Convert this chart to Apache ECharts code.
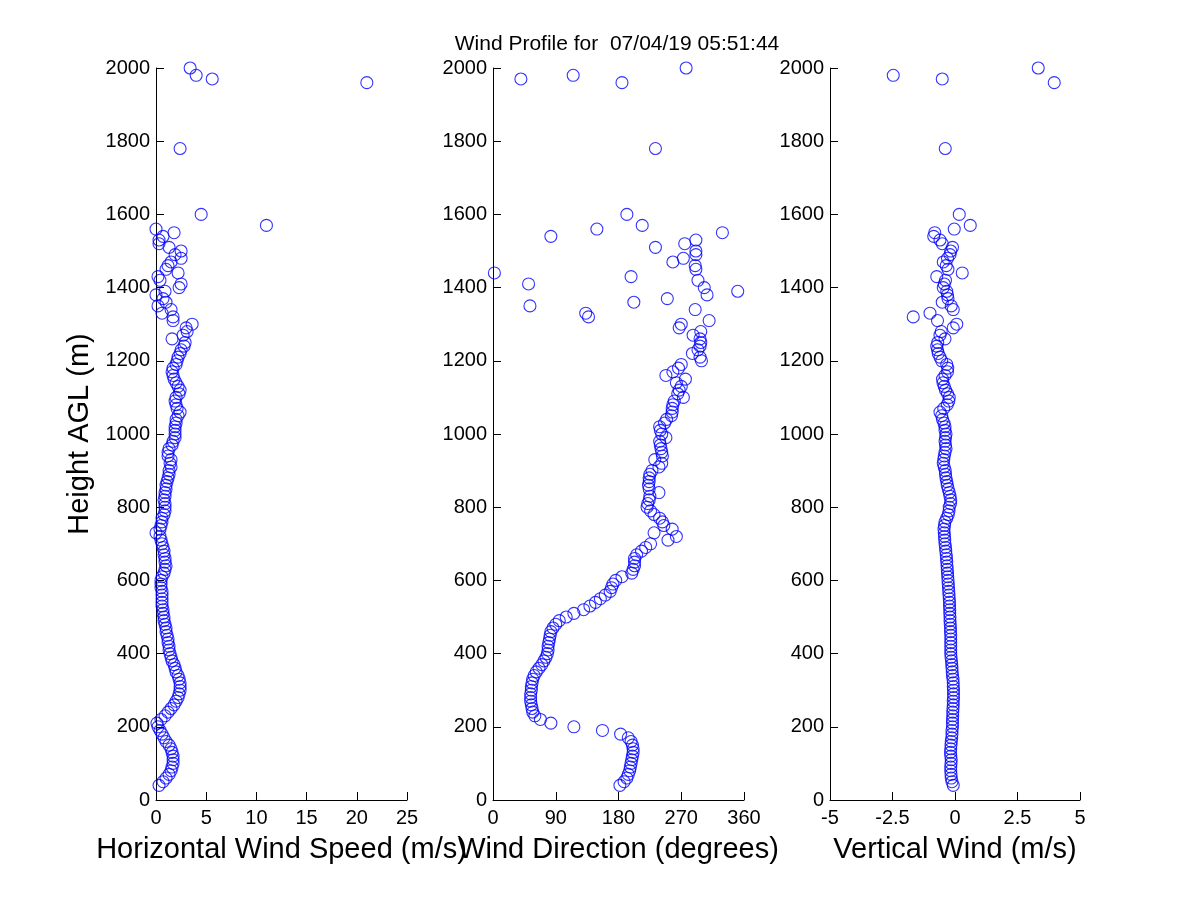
<!DOCTYPE html>
<html>
<head>
<meta charset="utf-8">
<script src="https://cdn.jsdelivr.net/npm/echarts@6/dist/echarts.min.js"></script>
<style>
html,body{margin:0;padding:0;background:#fff;}
#chart{width:1200px;height:900px;}
</style>
</head>
<body>
<div id="chart"></div>
<script>
// Heights (m AGL)
const heights = [
  40,50,60,70,80,90,100,110,120,130,
  140,150,160,170,180,190,200,210,220,230,
  240,250,260,270,280,290,300,310,320,330,
  340,350,360,370,380,390,400,410,420,430,
  440,450,460,470,480,490,500,510,520,530,
  540,550,560,570,580,590,600,610,620,630,
  640,650,660,670,680,690,700,710,720,730,
  740,750,760,770,780,790,800,810,820,830,
  840,850,860,870,880,890,900,910,920,930,
  940,950,960,970,980,990,1000,1010,1020,1030,
  1040,1050,1060,1070,1080,1090,1100,1110,1120,1130,
  1140,1150,1160,1170,1180,1190,1200,1210,1220,1230,
  1240,1250,1260,1270,1280,1290,1300,1310,1320,1330,
  1340,1350,1360,1370,1380,1390,1400,1410,1420,1430,
  1440,1450,1460,1470,1480,1490,1500,1510,1520,1530,
  1540,1550,1560,1570,
  1600,1780,1960,1970,1980,2000
];
// Horizontal wind speed (m/s)
const speed = [
  0.3,0.7,1.0,1.3,1.5,1.6,1.7,1.7,1.7,1.6,
  1.5,1.3,1.0,0.8,0.6,0.4,0.2,0.1,0.5,0.9,
  1.2,1.5,1.8,2.0,2.2,2.3,2.4,2.4,2.4,2.3,
  2.2,2.0,1.9,1.8,1.6,1.5,1.4,1.3,1.3,1.2,
  1.2,1.1,1.0,1.0,0.9,0.8,0.8,0.7,0.7,0.6,
  0.6,0.6,0.6,0.6,0.5,0.5,0.5,0.6,0.8,0.9,
  1.0,0.9,0.9,0.8,0.8,0.7,0.6,0.5,0.4,0.0,
  0.4,0.5,0.6,0.6,0.8,0.9,0.9,0.9,0.8,0.9,
  0.9,1.0,1.0,1.1,1.2,1.3,1.3,1.5,1.4,1.5,
  1.2,1.2,1.3,1.6,1.7,1.9,1.9,1.9,1.9,2.0,
  2.0,2.2,2.4,2.1,2.0,1.9,2.0,2.3,2.4,2.2,
  2.0,1.8,1.7,1.6,1.7,2.0,2.1,2.2,2.4,2.5,
  2.8,2.9,1.6,2.7,3.1,3.0,3.6,1.7,1.7,0.6,
  1.5,0.2,1.0,0.7,0.0,0.9,2.3,2.5,0.4,0.2,
  2.2,1.0,1.2,1.5,2.5,1.9,2.5,1.3,0.3,0.3,
  0.7,1.8,0.0,11.0,
  4.5,2.4,21.0,5.6,4.0,3.4
];
// Wind direction (degrees)
const direction = [
  182,188,192,194,196,197,198,199,200,201,
  201,200,198,194,183,157,116,83,68,60,
  57,56,55,54,54,54,55,55,56,57,
  59,62,66,70,73,76,78,79,79,80,
  81,82,83,86,90,95,105,116,130,139,
  147,154,161,168,170,172,176,185,199,201,
  203,203,203,206,213,219,226,251,263,231,
  257,245,243,239,231,226,221,222,224,225,
  238,224,223,224,224,225,228,238,242,232,
  243,242,241,240,239,248,242,240,239,246,
  249,256,257,257,258,260,273,265,267,270,
  263,276,248,258,266,270,299,297,286,294,
  297,298,297,287,298,267,270,310,137,133,
  290,53,202,250,307,351,303,51,294,198,
  2,291,290,258,273,291,291,233,275,291,
  83,329,149,214,
  192,233,185,40,115,277
];
// Vertical wind (m/s)
const vertical = [
  -0.07,-0.12,-0.15,-0.16,-0.17,-0.17,-0.16,-0.15,-0.17,-0.18,
  -0.17,-0.16,-0.15,-0.13,-0.12,-0.12,-0.10,-0.10,-0.10,-0.09,
  -0.09,-0.08,-0.07,-0.07,-0.06,-0.06,-0.06,-0.07,-0.07,-0.08,
  -0.10,-0.11,-0.12,-0.13,-0.14,-0.16,-0.17,-0.17,-0.17,-0.17,
  -0.17,-0.17,-0.18,-0.18,-0.19,-0.20,-0.20,-0.21,-0.21,-0.22,
  -0.22,-0.23,-0.24,-0.25,-0.26,-0.27,-0.28,-0.29,-0.30,-0.31,
  -0.32,-0.33,-0.34,-0.35,-0.37,-0.38,-0.40,-0.41,-0.42,-0.43,
  -0.44,-0.42,-0.40,-0.33,-0.27,-0.24,-0.23,-0.18,-0.17,-0.20,
  -0.23,-0.27,-0.31,-0.33,-0.36,-0.38,-0.39,-0.43,-0.47,-0.45,
  -0.43,-0.40,-0.36,-0.38,-0.40,-0.38,-0.36,-0.40,-0.40,-0.44,
  -0.50,-0.53,-0.60,-0.45,-0.31,-0.25,-0.23,-0.30,-0.38,-0.43,
  -0.48,-0.50,-0.40,-0.30,-0.29,-0.33,-0.53,-0.60,-0.67,-0.70,
  -0.73,-0.69,-0.40,-0.60,-0.55,-0.07,0.07,-0.70,-1.67,-1.00,
  -0.07,-0.15,-0.51,-0.28,-0.30,-0.33,-0.47,-0.43,-0.38,-0.73,
  0.29,-0.28,-0.35,-0.47,-0.30,-0.20,-0.17,-0.10,-0.51,-0.60,
  -0.85,-0.81,-0.03,0.61,
  0.17,-0.39,3.97,-0.51,-2.47,3.33
];
const titleText = 'Wind Profile for  07/04/19 05:51:44';
const xNames = ['Horizontal Wind Speed (m/s)', 'Wind Direction (degrees)', 'Vertical Wind (m/s)'];
const yName = 'Height AGL (m)';

const FONT = "'Liberation Sans', Arial, Helvetica, sans-serif";
const chart = echarts.init(document.getElementById('chart'));

function pairs(vals){ return vals.map((v,i)=>[v, heights[i]]); }

const gridDefs = [
  {left:156, top:68, width:251, height:732},
  {left:493, top:68, width:251, height:732},
  {left:830, top:68, width:250, height:732}
];
const xRanges = [
  {min:0, max:25, interval:5},
  {min:0, max:360, interval:90},
  {min:-5, max:5, interval:2.5}
];

function baseAxis(margin){
  return {
    axisLine:{show:true, onZero:false, lineStyle:{color:'#000', width:1}},
    axisTick:{show:true, inside:true, length:8, lineStyle:{color:'#000', width:1}},
    splitLine:{show:false},
    axisLabel:{color:'#000', fontSize:20, fontFamily:FONT, margin:margin, formatter:(v)=>String(v)}
  };
}

const option = {
  backgroundColor:'#fff',
  animation:false,
  graphic:[{
    type:'text', x:617, y:44,
    style:{text:titleText, fill:'#000', font:'21px ' + FONT, textAlign:'center', textVerticalAlign:'middle'}
  }],
  grid: gridDefs,
  xAxis: xRanges.map((r,i)=>Object.assign({
    type:'value', gridIndex:i, min:r.min, max:r.max, interval:r.interval,
    name:xNames[i], nameLocation:'middle', nameGap:35,
    nameTextStyle:{color:'#000', fontSize:29, fontFamily:FONT}
  }, baseAxis(8))),
  yAxis: [0,1,2].map(i=>Object.assign({
    type:'value', gridIndex:i, min:0, max:2000, interval:200,
    name: i===0 ? yName : '', nameLocation:'middle', nameGap:62,
    nameTextStyle:{color:'#000', fontSize:29, fontFamily:FONT}
  }, baseAxis(6))),
  series: [speed, direction, vertical].map((vals,i)=>({
    type:'scatter', xAxisIndex:i, yAxisIndex:i, clip:false,
    symbol:'circle', symbolSize:12,
    itemStyle:{color:'rgba(0,0,0,0)', borderColor:'#0000ff', borderWidth:1.1},
    data: pairs(vals)
  }))
};
chart.setOption(option);
</script>
</body>
</html>
